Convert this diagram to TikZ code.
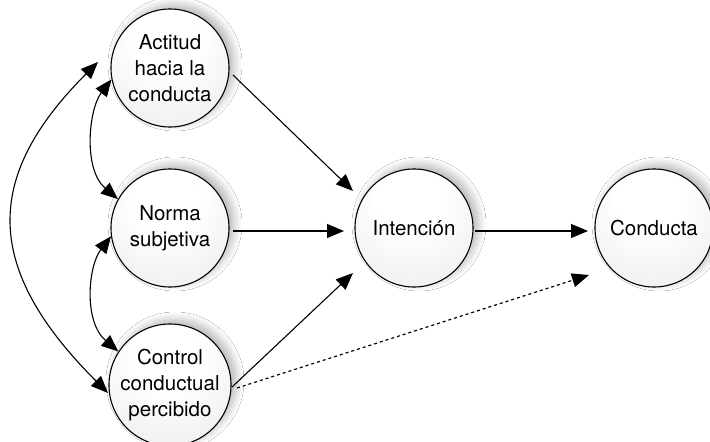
\documentclass[tikz,border=0pt]{standalone}
\usepackage{fontspec}
\setmainfont{TeX Gyre Heros}
\usetikzlibrary{arrows.meta,shadows.blur}
\pgfdeclareradialshading{ballshade}{\pgfpoint{-2bp}{14bp}}{%
  color(0bp)=(white); color(14bp)=(white); color(45bp)=(black!9);
  color(68bp)=(black!20); color(85bp)=(black!24)}
\tikzset{
  ball/.style={circle, draw=black, line width=1.1pt, minimum size=118pt,
    inner sep=0pt, align=center, shading=ballshade,
    font=\fontsize{20.5}{26}\selectfont,
    blur shadow={shadow xshift=5pt, shadow yshift=4pt, shadow blur radius=8pt,
      shadow blur steps=12, shadow opacity=30}},
  conn/.style={line width=1.1pt, -{Triangle[length=17pt,width=14pt]}},
  biconn/.style={line width=1.1pt, {Triangle[length=17pt,width=14pt]}-{Triangle[length=17pt,width=14pt]}},
  dotconn/.style={line width=1.2pt, dash pattern=on 3pt off 3pt, -{Triangle[length=17pt,width=14pt]}}
}
\begin{document}
\begin{tikzpicture}[x=1pt,y=-1pt]
\useasboundingbox[fill=white] (0,0) rectangle (710,442);
\node[ball] (act) at (170,68) {Actitud\\hacia la\\conducta};
\node[ball] (norma) at (170,228) {Norma\\subjetiva};
\node[ball] (ctrl) at (170,385) {Control\\conductual\\percibido};
\node[ball] (int) at (414,228) {Intención};
\node[ball] (cond) at (654,228) {Conducta};
\coordinate (bigA) at (98,62);
\coordinate (bigC) at (108,393);
\coordinate (actOut) at (233,75);
\coordinate (intIn1) at (353,191);
\coordinate (ctrlOut) at (232,387);
\coordinate (intIn3) at (353,273);
\coordinate (dotS) at (237,388);
\coordinate (dotE) at (589,275);
\coordinate (nOut) at (233,231);
\coordinate (intIn2) at (344,231);
\coordinate (iOut) at (475,231);
\coordinate (condIn) at (588,231);
\draw[conn] (actOut) -- (intIn1);
\draw[conn] (nOut) -- (intIn2);
\draw[conn] (ctrlOut) -- (intIn3);
\draw[conn] (iOut) -- (condIn);
\draw[dotconn] (dotS) -- (dotE);
\draw[biconn] (act.191) .. controls +(-23,30) and +(-35,-30) .. (norma.151);
\draw[biconn] (norma.188) .. controls +(-23,30) and +(-35,-30) .. (ctrl.147);
\draw[biconn] (bigA) .. controls (-17,177) and (-17,268) .. (bigC);
\end{tikzpicture}
\end{document}
